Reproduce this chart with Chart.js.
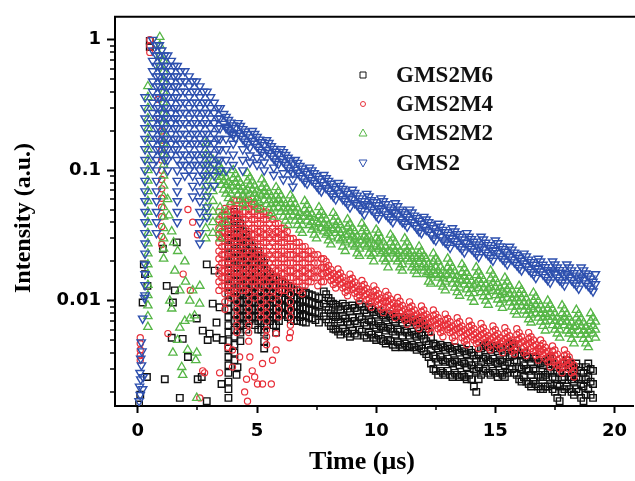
<!DOCTYPE html>
<html>
<head>
<meta charset="utf-8">
<script src="https://cdn.jsdelivr.net/npm/chart.js@4.4.1/dist/chart.umd.min.js"></script>
<style>
	html, body { margin: 0; padding: 0; background: #fff; overflow: hidden; }
	canvas { display: block; }
</style>
</head>
<body>
<canvas id="decayChart" width="635" height="481"></canvas>
<script>
const seriesNames = ["GMS2M6", "GMS2M4", "GMS2M2", "GMS2"];
const xMajorTicks = [0, 5, 10, 15, 20];
const xMinorTicks = [2.5, 7.5, 12.5, 17.5];
const yMajorTicks = [0.01, 0.1, 1];
const tailStep = 0.1; // sampling step of the decay tails (µs)

// GMS2: [time, [intensities stacked at that time]]
const gms2Stacks = [
	[0.30, [0.363, 0.30, 0.25, 0.21, 0.174, 0.145, 0.12, 0.10, 0.083, 0.069, 0.058, 0.048, 0.040, 0.033, 0.0275, 0.023, 0.019, 0.016, 0.0132, 0.011]],
	[0.62, [1.0, 0.83, 0.69, 0.575, 0.48, 0.40, 0.33, 0.275, 0.23, 0.19, 0.16, 0.132, 0.11]],
	[0.78, [0.91, 0.76, 0.63, 0.525, 0.44, 0.363, 0.30, 0.25, 0.21, 0.174, 0.145, 0.12, 0.10, 0.083, 0.069, 0.058, 0.048, 0.040, 0.033]],
	[0.9, [0.91, 0.76, 0.63, 0.525, 0.44, 0.363, 0.30, 0.25, 0.21, 0.174, 0.145]],
	[1.0, [0.83, 0.69, 0.575, 0.48, 0.40, 0.33, 0.275, 0.23, 0.19, 0.16, 0.132]],
	[1.12, [0.76, 0.63, 0.525, 0.44, 0.363, 0.30, 0.25, 0.21, 0.174, 0.145, 0.12]],
	[1.25, [0.76, 0.63, 0.525, 0.44, 0.363, 0.30, 0.25, 0.21, 0.174, 0.145, 0.12, 0.10]],
	[1.4, [0.69, 0.575, 0.48, 0.40, 0.33, 0.275, 0.23, 0.19, 0.16, 0.132]],
	[1.52, [0.63, 0.525, 0.44, 0.363, 0.30, 0.25, 0.21, 0.174, 0.145]],
	[1.65, [0.63, 0.525, 0.44, 0.363, 0.30, 0.25, 0.21, 0.174, 0.145, 0.12, 0.10, 0.083, 0.069, 0.058, 0.048, 0.040]],
	[1.8, [0.575, 0.48, 0.40, 0.33, 0.275, 0.23, 0.19, 0.16, 0.132, 0.11]],
	[1.97, [0.575, 0.48, 0.40, 0.33, 0.275, 0.23, 0.19, 0.16, 0.132, 0.11, 0.091]],
	[2.15, [0.525, 0.44, 0.363, 0.30, 0.25, 0.21, 0.174, 0.145, 0.12, 0.10]],
	[2.3, [0.48, 0.40, 0.33, 0.275, 0.23, 0.19, 0.16, 0.132, 0.11, 0.091, 0.076, 0.063]],
	[2.45, [0.48, 0.40, 0.33, 0.275, 0.23, 0.19, 0.16, 0.132, 0.11]],
	[2.6, [0.44, 0.363, 0.30, 0.25, 0.21, 0.174, 0.145, 0.12, 0.10, 0.083, 0.069, 0.058, 0.048, 0.040, 0.033, 0.0275]],
	[2.75, [0.40, 0.33, 0.275, 0.23, 0.19, 0.16, 0.132, 0.11, 0.091]],
	[2.9, [0.40, 0.33, 0.275, 0.23, 0.19, 0.16, 0.132, 0.11, 0.091, 0.076, 0.063, 0.052, 0.044]],
	[3.05, [0.363, 0.30, 0.25, 0.21, 0.174, 0.145, 0.12, 0.10]],
	[3.2, [0.33, 0.275, 0.23, 0.19, 0.16, 0.132, 0.11, 0.091, 0.076]],
	[3.35, [0.30, 0.25, 0.21, 0.174, 0.145, 0.12]],
	[3.45, [0.30, 0.25, 0.21, 0.174, 0.145, 0.12, 0.10]],
	[3.7, [0.21, 0.174, 0.145, 0.12, 0.10]],
	[4.0, [0.19, 0.16, 0.132, 0.11]],
	[4.4, [0.145, 0.12, 0.10]],
	[4.7, [0.13, 0.115]],
	[5.0, [0.125, 0.11]],
	[5.3, [0.115, 0.10]],
	[5.7, [0.105, 0.092]],
	[6.1, [0.095, 0.085]],
	[6.5, [0.085, 0.075]],
];
const gms2Points = [
	[0.05, 0.0017], [0.1, 0.0019], [0.07, 0.0022], [0.12, 0.0025], [0.09, 0.0028], [0.15, 0.0032], [0.12, 0.0036],
	[0.2, 0.0021], [0.22, 0.0026], [0.17, 0.0041], [0.14, 0.0048], [0.2, 0.0073], [0.28, 0.0105],
];
const gms2TailStart = 3.6;
const gms2TailTop = [
	0.27, 0.257, 0.243, 0.232, 0.221, 0.211, 0.23, 0.219, 0.207, 0.198, 0.189, 0.179,
	0.20, 0.19, 0.18, 0.172, 0.164, 0.156, 0.17, 0.162, 0.153, 0.146, 0.139, 0.133,
	0.145, 0.138, 0.131, 0.125, 0.119, 0.113, 0.12, 0.114, 0.108, 0.103, 0.098, 0.094,
	0.105, 0.1, 0.095, 0.09, 0.086, 0.082, 0.092, 0.087, 0.083, 0.079, 0.075, 0.072,
	0.080, 0.076, 0.072, 0.069, 0.066, 0.062, 0.071, 0.067, 0.064, 0.061, 0.058, 0.055,
	0.066, 0.063, 0.059, 0.057, 0.054, 0.051, 0.061, 0.058, 0.055, 0.052, 0.05, 0.048,
	0.056, 0.053, 0.05, 0.048, 0.046, 0.044, 0.05, 0.0475, 0.045, 0.043, 0.041, 0.039,
	0.044, 0.042, 0.04, 0.038, 0.036, 0.034, 0.039, 0.037, 0.035, 0.0335, 0.032, 0.0304,
	0.036, 0.034, 0.0324, 0.031, 0.0295, 0.028, 0.033, 0.031, 0.0297, 0.0284, 0.027, 0.0257,
	0.031, 0.0295, 0.0279, 0.0267, 0.0254, 0.0242, 0.029, 0.0276, 0.0261, 0.0249, 0.0238, 0.0226,
	0.026, 0.0247, 0.0234, 0.0224, 0.0213, 0.0203, 0.023, 0.0219, 0.0207, 0.0198, 0.0189, 0.0179,
	0.021, 0.02, 0.0189, 0.0181, 0.0172, 0.0164, 0.02, 0.019, 0.018, 0.0172, 0.0164, 0.0156,
	0.019, 0.018, 0.0171, 0.0163, 0.0156, 0.0148, 0.018, 0.0171, 0.0162, 0.0155, 0.0148, 0.014,
	0.016,
];
const gms2TailLow = [
	0.227, 0.216, 0.204, 0.195, 0.186, 0.177, 0.193, 0.184, 0.174, 0.166, 0.159, 0.150,
	0.168, 0.160, 0.151, 0.144, 0.138, 0.131, 0.143, 0.136, 0.129, 0.123, 0.117, 0.112,
	0.122, 0.116, 0.110, 0.105, 0.100, 0.095, 0.101, 0.096, 0.091, 0.087, 0.082, 0.079,
	0.088, 0.084, 0.080, 0.076, 0.072, 0.069, 0.077, 0.073, 0.070, 0.066, 0.063, 0.060,
	0.067, 0.064, 0.060, 0.058, 0.055, 0.052, 0.060, 0.056, 0.054, 0.051, 0.049, 0.046,
	0.055, 0.053, 0.050, 0.048, 0.045, 0.043, 0.051, 0.049, 0.046, 0.044, 0.042, 0.040,
	0.047, 0.045, 0.042, 0.040, 0.039, 0.037, 0.042, 0.040, 0.038, 0.036, 0.034, 0.033,
	0.037, 0.035, 0.034, 0.032, 0.030, 0.029, 0.033, 0.031, 0.029, 0.028, 0.027, 0.0255,
	0.030, 0.0286, 0.0272, 0.026, 0.0248, 0.0235, 0.0277, 0.026, 0.025, 0.0239, 0.0227, 0.0216,
	0.026, 0.0248, 0.0234, 0.0224, 0.0213, 0.0203, 0.0244, 0.0232, 0.0219, 0.0209, 0.02, 0.019,
	0.0218, 0.0207, 0.0197, 0.0188, 0.0179, 0.0171, 0.0193, 0.0184, 0.0174, 0.0166, 0.0159, 0.015,
	0.0176, 0.0168, 0.0159, 0.0152, 0.0144, 0.0138, 0.0168, 0.016, 0.0151, 0.0144, 0.0138, 0.0131,
	0.016, 0.0151, 0.0144, 0.0137, 0.0131, 0.0124, 0.0151, 0.0144, 0.0136, 0.013, 0.0124, 0.0118,
	0.0134,
];

// GMS2M2
const gms2m2Stacks = [
	[0.42, [0.44, 0.363, 0.30, 0.25, 0.21, 0.174, 0.145, 0.12, 0.10, 0.083, 0.069, 0.058, 0.048, 0.040, 0.033, 0.0275, 0.023, 0.019, 0.016, 0.0132, 0.011, 0.0092, 0.0076, 0.0063]],
	[0.92, [1.05, 0.91, 0.76, 0.63]],
	[1.08, [0.69, 0.575, 0.48, 0.40, 0.33, 0.275, 0.23, 0.19, 0.16, 0.132, 0.11, 0.091, 0.076, 0.063, 0.052, 0.044, 0.036, 0.030, 0.025, 0.021]],
	[2.85, [0.16, 0.132, 0.11, 0.091, 0.076, 0.063, 0.052, 0.044, 0.036, 0.030]],
	[3.15, [0.12, 0.10, 0.083, 0.069, 0.058, 0.048, 0.040, 0.033]],
	[3.45, [0.052, 0.044, 0.036, 0.030]],
	[3.7, [0.048, 0.040]],
];
const gms2m2Points = [
	[1.42, 0.034], [1.67, 0.024], [1.55, 0.017], [1.97, 0.020], [1.76, 0.012], [2.18, 0.010], [1.97, 0.0070],
	[2.38, 0.0077], [1.67, 0.005], [2.09, 0.0042], [2.43, 0.0035], [1.88, 0.0027], [2.47, 0.0018], [1.34, 0.010],
	[1.47, 0.0040], [1.84, 0.0031], [2.47, 0.004], [1.76, 0.0062], [2.18, 0.0073], [1.42, 0.0087], [2.59, 0.0095],
	[1.3, 0.045], [1.5, 0.028], [2.0, 0.014], [2.3, 0.012], [2.6, 0.013], [1.25, 0.06],
];
const gms2m2TailStart = 3.4;
const gms2m2TailTop = [
	0.11, 0.102, 0.095, 0.088, 0.081, 0.076, 0.10, 0.093, 0.086, 0.080, 0.074, 0.069,
	0.095, 0.088, 0.082, 0.076, 0.070, 0.066, 0.085, 0.079, 0.073, 0.068, 0.063, 0.059,
	0.074, 0.069, 0.064, 0.059, 0.055, 0.051, 0.064, 0.060, 0.055, 0.051, 0.047, 0.044,
	0.058, 0.054, 0.050, 0.046, 0.043, 0.040, 0.052, 0.048, 0.045, 0.042, 0.038, 0.036,
	0.047, 0.044, 0.040, 0.038, 0.035, 0.032, 0.042, 0.039, 0.036, 0.034, 0.031, 0.029,
	0.039, 0.036, 0.034, 0.031, 0.029, 0.027, 0.035, 0.033, 0.030, 0.028, 0.026, 0.024,
	0.032, 0.030, 0.028, 0.026, 0.024, 0.022, 0.030, 0.028, 0.026, 0.024, 0.022, 0.021,
	0.026, 0.024, 0.022, 0.021, 0.019, 0.018, 0.023, 0.021, 0.020, 0.018, 0.017, 0.016,
	0.021, 0.0195, 0.018, 0.0168, 0.0155, 0.0145, 0.019, 0.0177, 0.0163, 0.0152, 0.0141, 0.0131,
	0.018, 0.0167, 0.0155, 0.0144, 0.0133, 0.0124, 0.017, 0.0158, 0.0146, 0.0136, 0.0126, 0.0117,
	0.015, 0.014, 0.0129, 0.012, 0.0111, 0.0104, 0.013, 0.0121, 0.0112, 0.0104, 0.0096, 0.009,
	0.0115, 0.0107, 0.0099, 0.0092, 0.0085, 0.0079, 0.010, 0.0093, 0.0086, 0.008, 0.0074, 0.0069,
	0.0092, 0.0086, 0.0079, 0.0074, 0.0068, 0.0063, 0.0085, 0.0079, 0.0073, 0.0068, 0.0063, 0.0059,
	0.008, 0.0074, 0.0069,
];
const gms2m2TailMid = [
	0.096, 0.089, 0.083, 0.077, 0.070, 0.066, 0.087, 0.081, 0.075, 0.070, 0.064, 0.060,
	0.083, 0.077, 0.071, 0.066, 0.061, 0.057, 0.074, 0.069, 0.064, 0.059, 0.055, 0.051,
	0.064, 0.060, 0.056, 0.051, 0.048, 0.044, 0.056, 0.052, 0.048, 0.044, 0.041, 0.038,
	0.050, 0.047, 0.044, 0.040, 0.037, 0.035, 0.045, 0.042, 0.039, 0.037, 0.033, 0.031,
	0.041, 0.038, 0.035, 0.033, 0.030, 0.028, 0.037, 0.034, 0.031, 0.030, 0.027, 0.025,
	0.034, 0.031, 0.030, 0.027, 0.025, 0.023, 0.030, 0.029, 0.026, 0.024, 0.023, 0.021,
	0.028, 0.026, 0.024, 0.023, 0.021, 0.019, 0.026, 0.024, 0.023, 0.021, 0.019, 0.018,
	0.023, 0.021, 0.019, 0.018, 0.0165, 0.0157, 0.020, 0.018, 0.017, 0.0157, 0.0148, 0.014,
	0.018, 0.017, 0.0157, 0.0146, 0.0135, 0.0126, 0.0165, 0.0154, 0.0142, 0.0132, 0.0123, 0.0114,
	0.0157, 0.0145, 0.0135, 0.0125, 0.0116, 0.0108, 0.0148, 0.0137, 0.0127, 0.0118, 0.011, 0.0102,
	0.013, 0.0122, 0.0112, 0.0104, 0.0097, 0.009, 0.0113, 0.0105, 0.0097, 0.009, 0.0084, 0.0078,
	0.01, 0.0093, 0.0086, 0.008, 0.0074, 0.0069, 0.0087, 0.0081, 0.0075, 0.007, 0.0064, 0.006,
	0.008, 0.0075, 0.0069, 0.0064, 0.0059, 0.0055, 0.0074, 0.0069, 0.0064, 0.0059, 0.0055, 0.0051,
	0.007, 0.0064, 0.006,
];
const gms2m2TailLow = [
	0.083, 0.077, 0.071, 0.066, 0.061, 0.057, 0.075, 0.070, 0.065, 0.060, 0.056, 0.052,
	0.071, 0.066, 0.062, 0.057, 0.053, 0.050, 0.064, 0.059, 0.055, 0.051, 0.047, 0.044,
	0.056, 0.052, 0.048, 0.044, 0.041, 0.038, 0.048, 0.045, 0.041, 0.038, 0.035, 0.033,
	0.044, 0.041, 0.038, 0.035, 0.032, 0.030, 0.039, 0.036, 0.034, 0.032, 0.029, 0.027,
	0.035, 0.033, 0.030, 0.029, 0.026, 0.024, 0.032, 0.029, 0.027, 0.026, 0.023, 0.022,
	0.029, 0.027, 0.026, 0.023, 0.022, 0.020, 0.026, 0.025, 0.023, 0.021, 0.020, 0.018,
	0.024, 0.023, 0.021, 0.020, 0.018, 0.017, 0.023, 0.021, 0.020, 0.018, 0.017, 0.016,
	0.020, 0.018, 0.017, 0.016, 0.014, 0.0135, 0.017, 0.016, 0.015, 0.0135, 0.0128, 0.012,
	0.0158, 0.0146, 0.0135, 0.0126, 0.0116, 0.0109, 0.0143, 0.0133, 0.0122, 0.0114, 0.0106, 0.0098,
	0.0135, 0.0125, 0.0116, 0.0108, 0.01, 0.0093, 0.0128, 0.0119, 0.011, 0.0102, 0.0095, 0.0088,
	0.0113, 0.0105, 0.0097, 0.009, 0.0083, 0.0078, 0.0098, 0.0091, 0.0084, 0.0078, 0.0072, 0.0068,
	0.0086, 0.008, 0.0074, 0.0069, 0.0064, 0.0059, 0.0075, 0.007, 0.0065, 0.006, 0.0056, 0.0052,
	0.0069, 0.0065, 0.0059, 0.0056, 0.0051, 0.0047, 0.0064, 0.0059, 0.0055, 0.0051, 0.0047, 0.0044,
	0.006, 0.0056, 0.0052,
];

// GMS2M4
const gms2m4Stacks = [
	[0.1, [0.0052, 0.0047, 0.0042, 0.0038, 0.0035]],
	[0.5, [1.0, 0.9, 0.8]],
	[1.0, [0.2, 0.17, 0.145, 0.12, 0.10, 0.085, 0.072, 0.061, 0.052, 0.044, 0.037, 0.031, 0.027]],
	[3.4, [0.048, 0.042, 0.036, 0.032, 0.028, 0.024, 0.021, 0.018, 0.016, 0.014, 0.012]],
	[3.52, [0.045, 0.039, 0.034, 0.030, 0.026, 0.0225, 0.0195, 0.017, 0.015, 0.013]],
	[3.65, [0.051, 0.045, 0.039, 0.034, 0.030, 0.026, 0.0225, 0.0195, 0.017, 0.015, 0.013, 0.0113, 0.0098, 0.0086]],
	[3.77, [0.048, 0.042, 0.036, 0.032, 0.028, 0.024, 0.021, 0.018, 0.016, 0.014, 0.012]],
	[3.9, [0.055, 0.048, 0.042, 0.036, 0.032, 0.028, 0.024, 0.021, 0.018, 0.016, 0.014, 0.012, 0.0105]],
	[4.02, [0.059, 0.051, 0.045, 0.039, 0.034, 0.030, 0.026, 0.0225, 0.0195, 0.017, 0.015, 0.013, 0.0113]],
	[4.15, [0.059, 0.051, 0.045, 0.039, 0.034, 0.030, 0.026, 0.0225, 0.0195, 0.017, 0.015, 0.013, 0.0113, 0.0098, 0.0086, 0.0075, 0.0065, 0.0057]],
	[4.27, [0.059, 0.051, 0.045, 0.039, 0.034, 0.030, 0.026, 0.0225, 0.0195, 0.017, 0.015, 0.013]],
	[4.4, [0.063, 0.055, 0.048, 0.042, 0.036, 0.032, 0.028, 0.024, 0.021, 0.018, 0.016, 0.014, 0.012]],
	[4.52, [0.055, 0.048, 0.042, 0.036, 0.032, 0.028, 0.024, 0.021, 0.018, 0.016, 0.014, 0.012]],
	[4.65, [0.059, 0.051, 0.045, 0.039, 0.034, 0.030, 0.026, 0.0225, 0.0195, 0.017, 0.015, 0.013, 0.0113, 0.0098, 0.0086, 0.0075, 0.0065, 0.0057, 0.0049]],
	[4.77, [0.055, 0.048, 0.042, 0.036, 0.032, 0.028, 0.024, 0.021, 0.018, 0.016, 0.014]],
	[4.9, [0.055, 0.048, 0.042, 0.036, 0.032, 0.028, 0.024, 0.021, 0.018, 0.016, 0.014, 0.012, 0.0105]],
	[5.02, [0.051, 0.045, 0.039, 0.034, 0.030, 0.026, 0.0225, 0.0195, 0.017, 0.015, 0.013]],
	[5.15, [0.051, 0.045, 0.039, 0.034, 0.030, 0.026, 0.0225, 0.0195, 0.017, 0.015, 0.013, 0.0113, 0.0098, 0.0086, 0.0075]],
	[5.27, [0.048, 0.042, 0.036, 0.032, 0.028, 0.024, 0.021, 0.018, 0.016, 0.014]],
	[5.4, [0.048, 0.042, 0.036, 0.032, 0.028, 0.024, 0.021, 0.018, 0.016, 0.014, 0.012, 0.0105, 0.0091, 0.008, 0.007, 0.006, 0.0053, 0.0046]],
	[5.52, [0.045, 0.039, 0.034, 0.030, 0.026, 0.0225, 0.0195, 0.017, 0.015, 0.013]],
	[5.65, [0.042, 0.036, 0.032, 0.028, 0.024, 0.021, 0.018, 0.016, 0.014, 0.012, 0.0105]],
	[5.77, [0.039, 0.034, 0.030, 0.026, 0.0225, 0.0195, 0.017, 0.015, 0.013]],
	[5.9, [0.039, 0.034, 0.030, 0.026, 0.0225, 0.0195, 0.017, 0.015, 0.013, 0.0113, 0.0098, 0.0086, 0.0075]],
	[6.02, [0.036, 0.032, 0.028, 0.024, 0.021, 0.018, 0.016, 0.014, 0.012]],
	[6.15, [0.036, 0.032, 0.028, 0.024, 0.021, 0.018, 0.016, 0.014, 0.012]],
	[6.27, [0.034, 0.030, 0.026, 0.0225, 0.0195, 0.017, 0.015, 0.013]],
	[6.4, [0.030, 0.026, 0.0225, 0.0195, 0.017, 0.015, 0.013, 0.0113, 0.0098, 0.0086, 0.0075, 0.0065, 0.0057]],
	[6.52, [0.030, 0.026, 0.0225, 0.0195, 0.017, 0.015, 0.013]],
	[6.65, [0.028, 0.024, 0.021, 0.018, 0.016, 0.014]],
	[6.77, [0.028, 0.024, 0.021, 0.018, 0.016, 0.014, 0.012]],
	[6.9, [0.026, 0.0225, 0.0195, 0.017, 0.015, 0.013, 0.0113]],
	[7.02, [0.026, 0.0225, 0.0195, 0.017, 0.015, 0.013]],
	[7.15, [0.024, 0.021, 0.018, 0.016, 0.014]],
	[7.27, [0.024, 0.021, 0.018, 0.016, 0.014]],
	[7.4, [0.0225, 0.0195, 0.017, 0.015]],
	[7.55, [0.0225, 0.0195, 0.017, 0.015, 0.013]],
	[7.7, [0.021, 0.018, 0.016, 0.014]],
	[7.8, [0.021, 0.018, 0.016, 0.014]],
];
const gms2m4Points = [
	[1.26, 0.0056], [2.6, 0.0018], [2.8, 0.0028], [3.43, 0.0028], [3.77, 0.0044], [3.97, 0.0042], [4.27, 0.0037],
	[4.48, 0.0020], [4.56, 0.0025], [4.9, 0.0026], [5.02, 0.0023], [5.23, 0.0023], [5.6, 0.0023], [3.97, 0.0031],
	[4.8, 0.0029], [4.7, 0.0037], [5.23, 0.0033], [5.65, 0.0035], [5.8, 0.0042], [6.36, 0.0052], [5.8, 0.0056],
	[2.72, 0.0029], [4.6, 0.0017], [1.9, 0.016], [2.2, 0.012], [0.9, 0.25], [0.85, 0.35],
	[2.1, 0.05], [2.3, 0.04], [2.5, 0.032],
];
const gms2m4TailStart = 7.9;
const gms2m4TailTop = [
	0.020, 0.0186, 0.0174, 0.0162, 0.0152, 0.0175, 0.0163, 0.0152, 0.0142, 0.0133,
	0.016, 0.0149, 0.0139, 0.013, 0.0122, 0.0143, 0.0133, 0.0124, 0.0116, 0.0109,
	0.013, 0.0121, 0.0113, 0.0105, 0.0099, 0.0118, 0.011, 0.0103, 0.0096, 0.009,
	0.0106, 0.0099, 0.0092, 0.0086, 0.0081, 0.0098, 0.0091, 0.0085, 0.0079, 0.0074,
	0.0091, 0.0085, 0.0079, 0.0074, 0.0069, 0.0085, 0.0079, 0.0074, 0.0069, 0.0065,
	0.0079, 0.0073, 0.0069, 0.0064, 0.006, 0.0074, 0.0069, 0.0064, 0.006, 0.0056,
	0.007, 0.0065, 0.0061, 0.0057, 0.0053, 0.0067, 0.0062, 0.0058, 0.0054, 0.0051,
	0.0064, 0.006, 0.0056, 0.0052, 0.0049, 0.0062, 0.0058, 0.0054, 0.005, 0.0047,
	0.0061, 0.0057, 0.0053, 0.0049, 0.0046, 0.0057, 0.0053, 0.005, 0.0046, 0.0043,
	0.005, 0.0047, 0.0044, 0.0041, 0.0038, 0.0045, 0.0042, 0.0039, 0.0036, 0.0034,
	0.0042, 0.0039, 0.0037, 0.0034, 0.0032,
];
const gms2m4TailMid = [
	0.018, 0.0167, 0.0157, 0.0146, 0.0137, 0.0158, 0.0147, 0.0137, 0.0128, 0.012,
	0.0144, 0.0134, 0.0125, 0.0117, 0.011, 0.0129, 0.012, 0.0112, 0.0104, 0.0098,
	0.0117, 0.0109, 0.0102, 0.0095, 0.0089, 0.0106, 0.0099, 0.0093, 0.0086, 0.0081,
	0.0095, 0.0089, 0.0083, 0.0077, 0.0073, 0.0088, 0.0082, 0.0077, 0.0071, 0.0067,
	0.0082, 0.0077, 0.0071, 0.0067, 0.0062, 0.0077, 0.0071, 0.0067, 0.0062, 0.0059,
	0.0071, 0.0066, 0.0062, 0.0058, 0.0054, 0.0067, 0.0062, 0.0058, 0.0054, 0.005,
	0.0063, 0.0059, 0.0055, 0.0051, 0.0048, 0.006, 0.0056, 0.0052, 0.0049, 0.0046,
	0.0058, 0.0054, 0.005, 0.0047, 0.0044, 0.0056, 0.0052, 0.0049, 0.0045, 0.0042,
	0.0055, 0.0051, 0.0048, 0.0044, 0.0041, 0.0051, 0.0048, 0.0045, 0.0041, 0.0039,
	0.0045, 0.0042, 0.004, 0.0037, 0.0034, 0.0041, 0.0038, 0.0035, 0.0032, 0.0031,
	0.0038, 0.0035, 0.0033, 0.0031, 0.0029,
];
const gms2m4TailLow = [
	0.0164, 0.0153, 0.0143, 0.0133, 0.0125, 0.0144, 0.0134, 0.0125, 0.0116, 0.0109,
	0.0131, 0.0122, 0.0114, 0.0107, 0.01, 0.0117, 0.0109, 0.0102, 0.0095, 0.0089,
	0.0107, 0.0099, 0.0093, 0.0086, 0.0081, 0.0097, 0.009, 0.0084, 0.0079, 0.0074,
	0.0087, 0.0081, 0.0075, 0.0071, 0.0066, 0.008, 0.0075, 0.007, 0.0065, 0.0061,
	0.0075, 0.007, 0.0065, 0.0061, 0.0057, 0.007, 0.0065, 0.0061, 0.0057, 0.0053,
	0.0065, 0.006, 0.0057, 0.0052, 0.0049, 0.0061, 0.0057, 0.0052, 0.0049, 0.0046,
	0.0057, 0.0053, 0.005, 0.0047, 0.0043, 0.0055, 0.0051, 0.0048, 0.0044, 0.0042,
	0.0052, 0.0049, 0.0046, 0.0043, 0.004, 0.0051, 0.0048, 0.0044, 0.0041, 0.0039,
	0.005, 0.0047, 0.0043, 0.004, 0.0038, 0.0047, 0.0043, 0.0041, 0.0038, 0.0035,
	0.0041, 0.0039, 0.0036, 0.0034, 0.0031, 0.0037, 0.0034, 0.0032, 0.003, 0.0028,
	0.0034, 0.0032, 0.003, 0.0028, 0.0026,
];

// GMS2M6
const gms2m6Stacks = [
	[0.5, [0.98, 0.88]],
	[3.8, [0.040, 0.034, 0.030, 0.026, 0.0225, 0.0195, 0.017, 0.015, 0.013, 0.0113, 0.0098, 0.0086, 0.0075, 0.0065, 0.0057, 0.0049, 0.0043, 0.0037, 0.0032, 0.0028, 0.0024, 0.0021, 0.0018]],
	[4.05, [0.048, 0.042, 0.036, 0.032, 0.028, 0.024, 0.021, 0.018, 0.016, 0.014, 0.012, 0.0105, 0.0091, 0.008, 0.007, 0.006, 0.0053, 0.0046, 0.004, 0.0035]],
	[4.18, [0.042, 0.036, 0.032, 0.028, 0.024, 0.021, 0.018, 0.016, 0.014, 0.012, 0.0105, 0.0091, 0.008, 0.007, 0.006]],
	[4.3, [0.039, 0.034, 0.030, 0.026, 0.0225, 0.0195, 0.017, 0.015, 0.013, 0.0113, 0.0098, 0.0086, 0.0075, 0.0065, 0.0057, 0.0049]],
	[4.42, [0.034, 0.030, 0.026, 0.0225, 0.0195, 0.017, 0.015, 0.013, 0.0113, 0.0098, 0.0086, 0.0075, 0.0065]],
	[4.55, [0.032, 0.028, 0.024, 0.021, 0.018, 0.016, 0.014, 0.012, 0.0105, 0.0091, 0.008, 0.007, 0.006]],
	[4.68, [0.028, 0.024, 0.021, 0.018, 0.016, 0.014, 0.012, 0.0105, 0.0091, 0.008, 0.007]],
	[4.8, [0.026, 0.0225, 0.0195, 0.017, 0.015, 0.013, 0.0113, 0.0098, 0.0086, 0.0075]],
	[4.92, [0.0225, 0.0195, 0.017, 0.015, 0.013, 0.0113, 0.0098, 0.0086, 0.0075, 0.0065]],
	[5.05, [0.024, 0.021, 0.018, 0.016, 0.014, 0.012, 0.0105, 0.0091, 0.008, 0.007, 0.006]],
	[5.18, [0.021, 0.018, 0.016, 0.014, 0.012, 0.0105, 0.0091, 0.008, 0.007, 0.006]],
	[5.3, [0.0195, 0.017, 0.015, 0.013, 0.0113, 0.0098, 0.0086, 0.0075, 0.0065, 0.0057, 0.0049, 0.0043]],
	[5.42, [0.017, 0.015, 0.013, 0.0113, 0.0098, 0.0086, 0.0075, 0.0065]],
	[5.55, [0.016, 0.014, 0.012, 0.0105, 0.0091, 0.008, 0.007]],
	[5.68, [0.015, 0.013, 0.0113, 0.0098, 0.0086, 0.0075, 0.0065]],
	[5.8, [0.015, 0.013, 0.0113, 0.0098, 0.0086, 0.0075, 0.0065, 0.0057]],
	[5.92, [0.014, 0.012, 0.0105, 0.0091, 0.008, 0.007]],
	[6.05, [0.014, 0.012, 0.0105, 0.0091, 0.008]],
	[6.18, [0.0135, 0.0118, 0.0102, 0.0089, 0.0078]],
	[6.3, [0.013, 0.0113, 0.0098, 0.0086, 0.0075]],
	[6.42, [0.0125, 0.011, 0.0095, 0.0083, 0.0072]],
	[6.55, [0.012, 0.0105, 0.0091, 0.008, 0.007]],
	[6.68, [0.012, 0.0105, 0.0091, 0.008, 0.007]],
	[6.8, [0.0113, 0.0098, 0.0086, 0.0075]],
	[6.92, [0.0118, 0.0102, 0.0089, 0.0078, 0.0069]],
	[7.05, [0.0115, 0.0100, 0.0087, 0.0076, 0.0068]],
	[7.18, [0.0112, 0.0098, 0.0085, 0.0074]],
	[7.3, [0.0110, 0.0096, 0.0084, 0.0073]],
	[7.45, [0.0108, 0.0094, 0.0082, 0.0071]],
	[7.6, [0.0105, 0.0092, 0.0080, 0.0068]],
];
const gms2m6Points = [
	[0.05, 0.0016], [0.1, 0.0019], [0.38, 0.0026], [0.25, 0.019], [0.3, 0.016], [0.4, 0.013], [0.2, 0.0097],
	[1.05, 0.025], [1.47, 0.0097], [1.88, 0.0051], [2.1, 0.0037], [1.76, 0.0018], [1.13, 0.0025], [2.51, 0.0025],
	[2.89, 0.0017], [2.68, 0.0026], [2.72, 0.0059], [2.47, 0.0073], [2.93, 0.005], [3.3, 0.0052], [3.56, 0.005],
	[3.51, 0.0023], [4.18, 0.0031], [4.14, 0.0027], [3.14, 0.0095], [3.43, 0.0089], [2.89, 0.019], [3.22, 0.017],
	[1.21, 0.013], [1.55, 0.012], [1.42, 0.0052], [1.63, 0.028], [3.01, 0.0056], [3.3, 0.0068],
];
const gms2m6TailStart = 7.8;
const gms2m6TailTop = [
	0.0118, 0.0112, 0.0105, 0.0099, 0.0095,
	0.0093, 0.009, 0.0086, 0.0095, 0.0091, 0.0087, 0.0083, 0.0092, 0.0088, 0.0084,
	0.0094, 0.009, 0.0085, 0.0081, 0.0089, 0.0086, 0.0082, 0.0078, 0.0084, 0.008,
	0.0077, 0.0074, 0.0079, 0.0076, 0.0072, 0.0069, 0.0075, 0.0072, 0.0068, 0.0074,
	0.0071, 0.0068, 0.0072, 0.0069, 0.0066, 0.007, 0.0067, 0.0064, 0.0061, 0.0058,
	0.0052, 0.0047, 0.0045, 0.0043, 0.0046, 0.0044, 0.0042, 0.0045, 0.0043, 0.0041,
	0.0044, 0.0042, 0.004, 0.0043, 0.0041, 0.0039, 0.0042, 0.004, 0.0038, 0.0036,
	0.0039, 0.0043, 0.0045, 0.0046, 0.0044, 0.0042, 0.0045, 0.0043, 0.0041, 0.0044,
	0.0042, 0.004, 0.0043, 0.0046, 0.0047, 0.0044, 0.0042, 0.0039, 0.0038, 0.004,
	0.0037, 0.0036, 0.0034, 0.0037, 0.0036, 0.0034, 0.0033, 0.0032, 0.0034, 0.0035,
	0.0036, 0.0033, 0.0031, 0.0029, 0.0028, 0.0031, 0.0033, 0.0035, 0.0033, 0.0031,
	0.003, 0.0033, 0.0031, 0.0029, 0.0028, 0.0031, 0.0033, 0.003, 0.0029,
];
const gms2m6TailMid = [
	0.0095, 0.009, 0.0085, 0.008, 0.0077,
	0.0075, 0.0072, 0.0069, 0.0076, 0.0073, 0.0069, 0.0066, 0.0074, 0.007, 0.0067,
	0.0075, 0.0072, 0.0068, 0.0065, 0.0071, 0.0069, 0.0065, 0.0062, 0.0067, 0.0064,
	0.0062, 0.0059, 0.0063, 0.0061, 0.0058, 0.0055, 0.006, 0.0058, 0.0054, 0.0059,
	0.0057, 0.0054, 0.0058, 0.0055, 0.0053, 0.0056, 0.0054, 0.0051, 0.0049, 0.0046,
	0.0042, 0.0038, 0.0036, 0.0034, 0.0037, 0.0035, 0.0034, 0.0036, 0.0034, 0.0033,
	0.0035, 0.0034, 0.0032, 0.0034, 0.0033, 0.0031, 0.0034, 0.0032, 0.003, 0.0029,
	0.0031, 0.0034, 0.0036, 0.0037, 0.0035, 0.0034, 0.0036, 0.0034, 0.0033, 0.0035,
	0.0034, 0.0032, 0.0034, 0.0037, 0.0038, 0.0035, 0.0034, 0.0031, 0.003, 0.0032,
	0.003, 0.0029, 0.0027, 0.003, 0.0029, 0.0027, 0.0026, 0.0026, 0.0027, 0.0028,
	0.0029, 0.0026, 0.0025, 0.0023, 0.0022, 0.0025, 0.0026, 0.0028, 0.0026, 0.0025,
	0.0024, 0.0026, 0.0025, 0.0023, 0.0022, 0.0025, 0.0026, 0.0024, 0.0023,
];
const gms2m6TailLow = [
	0.0076, 0.0072, 0.0068, 0.0064, 0.0061,
	0.006, 0.0058, 0.0055, 0.0061, 0.0058, 0.0056, 0.0053, 0.0059, 0.0056, 0.0054,
	0.006, 0.0058, 0.0054, 0.0052, 0.0057, 0.0055, 0.0052, 0.005, 0.0054, 0.0051,
	0.0049, 0.0047, 0.005, 0.0049, 0.0046, 0.0044, 0.0048, 0.0046, 0.0044, 0.0047,
	0.0045, 0.0044, 0.0046, 0.0044, 0.0042, 0.0045, 0.0043, 0.0041, 0.0039, 0.0037,
	0.0033, 0.003, 0.0029, 0.0027, 0.0029, 0.0028, 0.0027, 0.0029, 0.0027, 0.0026,
	0.0028, 0.0027, 0.0026, 0.0027, 0.0026, 0.0025, 0.0027, 0.0025, 0.0022, 0.002,
	0.0025, 0.0027, 0.0029, 0.003, 0.0028, 0.0027, 0.0029, 0.0028, 0.0026, 0.0028,
	0.0027, 0.0026, 0.0028, 0.003, 0.003, 0.0028, 0.0027, 0.0025, 0.0024, 0.0026,
	0.0024, 0.0023, 0.0022, 0.0024, 0.0023, 0.0022, 0.0021, 0.0021, 0.0022, 0.0022,
	0.0023, 0.0021, 0.002, 0.0018, 0.0017, 0.002, 0.0021, 0.0022, 0.0021, 0.002,
	0.0019, 0.0021, 0.002, 0.0018, 0.0017, 0.0019, 0.0021, 0.0019, 0.0018,
];

const seriesColors = ["#111111", "#e8303a", "#56b646", "#2e50ae"];

function toPoints(stacks, points, tailStart, tailRows) {
	const out = [];
	stacks.forEach(([t, values]) => values.forEach((v) => out.push({ x: t, y: v })));
	points.forEach(([t, v]) => out.push({ x: t, y: v }));
	tailRows.forEach((row) => row.forEach((v, i) => {
		out.push({ x: Math.round((tailStart + i * tailStep) * 100) / 100, y: v });
	}));
	return out;
}

const decorPlugin = {
	id: "decor",
	afterDraw(chart) {
		const { ctx, chartArea, scales } = chart;
		const xs = scales.x;
		const ys = scales.y;
		ctx.save();
		ctx.strokeStyle = "#000";
		// top frame line
		ctx.lineWidth = 2;
		ctx.beginPath();
		ctx.moveTo(chartArea.left - 1, chartArea.top);
		ctx.lineTo(chart.width, chartArea.top);
		ctx.stroke();
		// minor ticks
		ctx.lineWidth = 1.5;
		ctx.beginPath();
		xMinorTicks.forEach((v) => {
			const px = Math.round(xs.getPixelForValue(v));
			ctx.moveTo(px, chartArea.bottom);
			ctx.lineTo(px, chartArea.bottom + 4);
		});
		[0.001, 0.01, 0.1].forEach((d) => {
			for (let k = 2; k <= 9; k++) {
				const v = k * d;
				if (v < ys.min || v > ys.max) continue;
				const py = Math.round(ys.getPixelForValue(v));
				ctx.moveTo(chartArea.left, py);
				ctx.lineTo(chartArea.left - 5, py);
			}
		});
		ctx.stroke();

		// axis titles
		ctx.fillStyle = "#000";
		ctx.font = "bold 26px 'Liberation Serif'";
		ctx.textAlign = "center";
		ctx.textBaseline = "alphabetic";
		ctx.fillText("Time (\u03bcs)", 362, 469);
		ctx.save();
		ctx.translate(30, 218);
		ctx.rotate(-Math.PI / 2);
		ctx.font = "bold 24px 'Liberation Serif'";
		ctx.fillText("Intensity (a.u.)", 0, 0);
		ctx.restore();

		// legend
		const rows = [75, 104, 133, 163];
		ctx.font = "bold 23px 'Liberation Serif'";
		ctx.textAlign = "left";
		ctx.textBaseline = "middle";
		seriesNames.forEach((name, i) => {
			const x = 363;
			const y = rows[i];
			ctx.strokeStyle = seriesColors[i];
			ctx.lineWidth = 1;
			ctx.beginPath();
			if (i === 0) ctx.rect(x - 3, y - 3, 6, 6);
			else if (i === 1) ctx.arc(x, y, 2.5, 0, Math.PI * 2);
			else if (i === 2) { ctx.moveTo(x, y - 4); ctx.lineTo(x + 4, y + 3); ctx.lineTo(x - 4, y + 3); ctx.closePath(); }
			else { ctx.moveTo(x, y + 4); ctx.lineTo(x + 4, y - 3); ctx.lineTo(x - 4, y - 3); ctx.closePath(); }
			ctx.stroke();
			ctx.fillStyle = "#111";
			ctx.fillText(name, 396, y + 1);
		});
		ctx.restore();
	},
};

const tickFont = { family: "'DejaVu Sans'", size: 18, weight: "bold" };

new Chart(document.getElementById("decayChart"), {
	type: "scatter",
	data: {
		datasets: [
			{
				label: seriesNames[0],
				data: toPoints(gms2m6Stacks, gms2m6Points, gms2m6TailStart, [gms2m6TailTop, gms2m6TailMid, gms2m6TailLow]),
				pointStyle: "rect",
				pointRadius: 4.6,
				borderColor: seriesColors[0],
				backgroundColor: "rgba(255,255,255,0)",
				borderWidth: 1.4,
				order: 4,
			},
			{
				label: seriesNames[1],
				data: toPoints(gms2m4Stacks, gms2m4Points, gms2m4TailStart, [gms2m4TailTop, gms2m4TailMid, gms2m4TailLow]),
				pointStyle: "circle",
				pointRadius: 3.1,
				borderColor: seriesColors[1],
				backgroundColor: "rgba(255,255,255,0)",
				borderWidth: 1.2,
				order: 3,
			},
			{
				label: seriesNames[2],
				data: toPoints(gms2m2Stacks, gms2m2Points, gms2m2TailStart, [gms2m2TailTop, gms2m2TailMid, gms2m2TailLow]),
				pointStyle: "triangle",
				pointRadius: 4.8,
				borderColor: seriesColors[2],
				backgroundColor: "rgba(255,255,255,0)",
				borderWidth: 1.3,
				order: 2,
			},
			{
				label: seriesNames[3],
				data: toPoints(gms2Stacks, gms2Points, gms2TailStart, [gms2TailTop, gms2TailLow]),
				pointStyle: "triangle",
				rotation: 180,
				pointRadius: 4.8,
				borderColor: seriesColors[3],
				backgroundColor: "rgba(255,255,255,0)",
				borderWidth: 1.4,
				order: 1,
			},
		],
	},
	options: {
		responsive: false,
		animation: false,
		devicePixelRatio: 1,
		layout: { autoPadding: false, padding: { top: 14, right: 0, left: 0, bottom: 0 } },
		plugins: {
			legend: { display: false },
			tooltip: { enabled: false },
		},
		scales: {
			x: {
				type: "linear",
				min: -0.96,
				max: 20.8,
				afterBuildTicks: (axis) => { axis.ticks = xMajorTicks.map((v) => ({ value: v })); },
				afterFit: (axis) => { axis.height = 75; },
				border: { color: "#000", width: 2 },
				grid: { drawOnChartArea: false, tickLength: 7, tickColor: "#000", tickWidth: 2 },
				ticks: { color: "#000", font: tickFont, padding: 8, maxRotation: 0 },
			},
			y: {
				type: "logarithmic",
				min: 0.00156,
				max: 1.5,
				afterBuildTicks: (axis) => { axis.ticks = yMajorTicks.map((v) => ({ value: v })); },
				afterFit: (axis) => { axis.width = 115; },
				border: { color: "#000", width: 2 },
				grid: { drawOnChartArea: false, tickLength: 8, tickColor: "#000", tickWidth: 2 },
				ticks: { color: "#000", font: tickFont, padding: 6, callback: (v) => String(v) },
			},
		},
	},
	plugins: [decorPlugin],
});
</script>
</body>
</html>
